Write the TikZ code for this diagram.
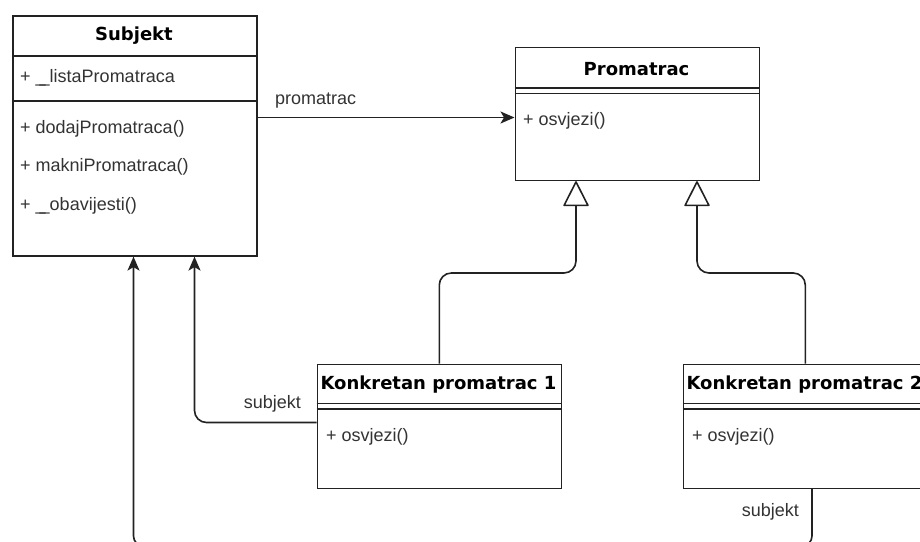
\documentclass[tikz,border=0pt]{standalone}
\usepackage{fontspec}
\setmainfont{Liberation Sans}
\newfontfamily\titlefont{DejaVu Sans}
\usetikzlibrary{arrows.meta}
\definecolor{linec}{HTML}{222222}
\definecolor{txtc}{HTML}{333333}
\newcommand{\dblus}{\_\kern-6pt\_}
\tikzset{
  clsbox/.style={draw=linec, line width=1.6pt, fill=white, rectangle, anchor=north west, inner sep=0pt},
  ttl/.style={font=\titlefont\bfseries\fontsize{18}{21}\selectfont, text=black, inner sep=0pt},
  mem/.style={font=\fontsize{18}{21}\selectfont, text=txtc, anchor=west, inner sep=0pt},
  lbl/.style={font=\fontsize{18}{21}\selectfont, text=txtc, inner sep=0pt},
  sep/.style={draw=linec, line width=1.6pt},
  conn/.style={draw=linec, line width=1.6pt, rounded corners=12pt},
  assoc/.style={conn, -{Stealth[length=14pt, width=12pt, inset=3.5pt]}},
  inh/.style={conn, -{Triangle[open, length=26pt, width=26pt, fill=white, round]}}
}
\begin{document}
\begin{tikzpicture}[x=1pt, y=-1pt]
\fill[white] (0,0) rectangle (920,541);
\useasboundingbox (0,0) rectangle (920,541);
\clip (0,0) rectangle (920,541);

% Subjekt
\node[clsbox, minimum width=244pt, minimum height=240pt] (subj) at (12,15) {};
\node[ttl] (subjT) at (134,36) {Subjekt};
\draw[sep] (12,56) -- (256,56);
\node[mem] (subjA) at (20,78) {+ \dblus listaPromatraca};
\draw[sep] (12,101) -- (256,101);
\node[mem] (subjM1) at (20,129) {+ dodajPromatraca()};
\node[mem] (subjM2) at (20,167) {+ makniPromatraca()};
\node[mem] (subjM3) at (20,206) {+ \dblus obavijesti()};

% Promatrac
\node[clsbox, minimum width=244pt, minimum height=133pt] (prom) at (514.5,46.5) {};
\node[ttl] (promT) at (636.5,69) {Promatrac};
\draw[sep] (514.5,88) -- (758.5,88);
\draw[sep] (514.5,93.5) -- (758.5,93.5);
\node[mem] (promM) at (523,121) {+ osvjezi()};

% Konkretan promatrac 1
\node[clsbox, minimum width=244pt, minimum height=124pt] (kp1) at (316.5,363.5) {};
\node[ttl] (kp1T) at (438.5,385) {Konkretan promatrac 1};
\draw[sep] (316.5,403.5) -- (560.5,403.5);
\draw[sep] (316.5,409) -- (560.5,409);
\node[mem] (kp1M) at (326,437) {+ osvjezi()};

% Konkretan promatrac 2
\node[clsbox, minimum width=244pt, minimum height=124pt] (kp2) at (682.5,363.5) {};
\node[ttl] (kp2T) at (804.5,385) {Konkretan promatrac 2};
\draw[sep] (682.5,403.5) -- (926.5,403.5);
\draw[sep] (682.5,409) -- (926.5,409);
\node[mem] (kp2M) at (692,437) {+ osvjezi()};

% helper coordinates
\coordinate (yA) at (0,117.5);
\coordinate (yH) at (0,273);
\coordinate (yS1) at (0,422.5);
\coordinate (yB) at (0,546);
\coordinate (xT1) at (576,0);
\coordinate (xT2) at (697,0);
\coordinate (xS1) at (194.5,0);
\coordinate (xS2) at (133.5,0);
\coordinate (xK2) at (812,0);

% association Subjekt -> Promatrac
\draw[assoc] (subj.east |- yA) -- (prom.west |- yA);
\node[lbl, anchor=west] (lblProm) at (275,101) {promatrac};

% inheritance
\draw[inh] (kp1.north) -- (kp1.north |- yH) -- (xT1 |- yH) -- (xT1 |- prom.south);
\draw[inh] (kp2.north) -- (kp2.north |- yH) -- (xT2 |- yH) -- (xT2 |- prom.south);

% subjekt associations
\draw[assoc] (kp1.west |- yS1) -- (xS1 |- yS1) -- (xS1 |- subj.south);
\node[lbl, anchor=east] (lblS1) at (301,404) {subjekt};

\draw[assoc, rounded corners=10pt] (xK2 |- kp2.south) -- (xK2 |- yB) -- (xS2 |- yB) -- (xS2 |- subj.south);
\node[lbl, anchor=east] (lblS2) at (799,512) {subjekt};
\end{tikzpicture}
\end{document}
